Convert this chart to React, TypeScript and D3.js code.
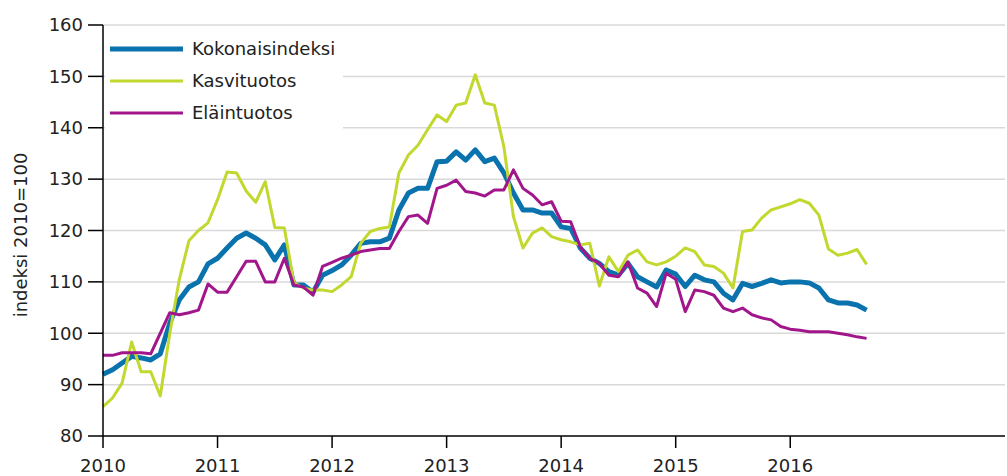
import React from 'react';
import * as d3 from 'd3';

// monthly values, Jan 2010 .. Sep 2016
const kokonaisindeksi = [
  92, 92.9, 94.2, 95.5, 95.2, 94.8, 96, 102, 106.5, 109, 110, 113.5,
  114.6, 116.6, 118.5, 119.5, 118.5, 117.2, 114.3, 117.2, 109.4, 109.4, 108, 111.3,
  112.2, 113.3, 115.2, 117.5, 117.8, 117.8, 118.5, 124, 127.3, 128.2, 128.2, 133.4,
  133.5, 135.3, 133.7, 135.7, 133.4, 134.1, 131.2, 127.3, 124, 124, 123.4, 123.4,
  120.7, 120.4, 116.6, 114.6, 113.6, 112, 111.3, 113.6, 111, 110, 109, 112.3,
  111.5, 109.1, 111.3, 110.4, 110, 107.8, 106.5, 109.7, 109.1, 109.7, 110.4, 109.8,
  110, 110, 109.8, 108.8, 106.5, 105.9, 105.9, 105.5, 104.5,
];
const kasvituotos = [
  85.7, 87.4, 90.3, 98.3, 92.5, 92.5, 87.8, 100, 110.5, 118, 120, 121.5,
  126, 131.4, 131.2, 127.7, 125.5, 129.5, 120.6, 120.5, 109.8, 108.8, 108.4, 108.4,
  108.1, 109.4, 111, 117.5, 119.8, 120.4, 120.7, 131.2, 134.7, 136.6, 139.6, 142.5,
  141.2, 144.4, 144.8, 150.3, 144.8, 144.4, 136.3, 122.7, 116.6, 119.5, 120.5, 118.8,
  118.2, 117.8, 117.2, 117.5, 109.2, 114.9, 112, 115.2, 116.2, 113.9, 113.3, 113.9,
  115, 116.6, 115.9, 113.3, 113, 111.7, 108.8, 119.8, 120.1, 122.4, 124, 124.6,
  125.2, 126, 125.3, 123, 116.4, 115.2, 115.6, 116.3, 113.4,
];
const elaintuotos = [
  95.7, 95.7, 96.2, 96.2, 96.2, 96, 100, 104, 103.6, 104, 104.5, 109.6,
  108, 108, 111, 114, 114, 110, 110, 114.6, 109.4, 109, 107.4, 113,
  113.8, 114.6, 115.2, 115.9, 116.2, 116.5, 116.5, 119.8, 122.7, 123, 121.4, 128.2,
  128.8, 129.8, 127.6, 127.3, 126.7, 127.9, 127.9, 131.8, 128.2, 126.9, 125, 125.6,
  121.8, 121.7, 116.8, 114.6, 113.6, 111.3, 111, 113.9, 108.8, 107.8, 105.2, 111.7,
  110.5, 104.2, 108.4, 108.1, 107.4, 104.9, 104.2, 104.9, 103.6, 103, 102.6, 101.3,
  100.8, 100.6, 100.3, 100.3, 100.3, 100, 99.7, 99.3, 99,
];
const years = [2010, 2011, 2012, 2013, 2014, 2015, 2016];
const yTicks = [80, 90, 100, 110, 120, 130, 140, 150, 160];

const series = [
  { name: 'Kokonaisindeksi', values: kokonaisindeksi, color: '#0a72ad', width: 5 },
  { name: 'Kasvituotos', values: kasvituotos, color: '#c2d82f', width: 3 },
  { name: 'Eläintuotos', values: elaintuotos, color: '#a2168c', width: 3 },
];

const width = 1007;
const height = 476;
const font = '"DejaVu Sans", Verdana, sans-serif';

const App = () => {
  const x = d3.scaleLinear().domain([0, 94.5]).range([103, 1005]);
  const y = d3.scaleLinear().domain([80, 160]).range([436, 25]);

  const line = d3.line<number>()
    .x((d, i) => x(i))
    .y(d => y(d));

  return (
    <svg width={width} height={height} style={{ position: 'absolute', left: 0, top: 0 }}
      fontFamily={font}>
      {yTicks.filter(t => t > 80).map(t => (
        <line key={t} x1={x(0)} x2={x(94.5)} y1={y(t)} y2={y(t)} stroke="#d9d9d9" strokeWidth={1.5} />
      ))}
      <rect x={105} y={30} width={238} height={100} fill="#fff" />
      {series.map(s => (
        <path key={s.name} d={line(s.values) || ''} fill="none" stroke={s.color}
          strokeWidth={s.width} strokeLinejoin="round" />
      ))}
      {/* y axis */}
      <line x1={x(0)} x2={x(0)} y1={y(160)} y2={y(80)} stroke="#000" strokeWidth={1.5} />
      {yTicks.map(t => (
        <g key={t}>
          <line x1={88} x2={x(0)} y1={y(t)} y2={y(t)} stroke="#000" strokeWidth={1.5} />
          <text x={83} y={y(t)} dy="0.35em" textAnchor="end" fontSize={18} fill="#222">{t}</text>
        </g>
      ))}
      {/* x axis */}
      <line x1={x(0)} x2={x(94.5)} y1={y(80)} y2={y(80)} stroke="#000" strokeWidth={1.5} />
      {years.map((yr, i) => (
        <g key={yr}>
          <line x1={x(i * 12)} x2={x(i * 12)} y1={y(80)} y2={y(80) + 12} stroke="#000" strokeWidth={1.5} />
          <text x={x(i * 12)} y={472} textAnchor="middle" fontSize={18} fill="#222">{yr}</text>
        </g>
      ))}
      <text transform="translate(27, 235) rotate(-90)" textAnchor="middle" fontSize={18} fill="#222">
        indeksi 2010=100
      </text>
      {/* legend */}
      {series.map((s, i) => (
        <g key={s.name} transform={`translate(110, ${49 + i * 32})`}>
          <line x1={0} x2={73} y1={0} y2={0} stroke={s.color} strokeWidth={s.width} />
          <text x={82} y={0} dy="0.35em" fontSize={18} fill="#222">{s.name}</text>
        </g>
      ))}
    </svg>
  );
};

export default App;
